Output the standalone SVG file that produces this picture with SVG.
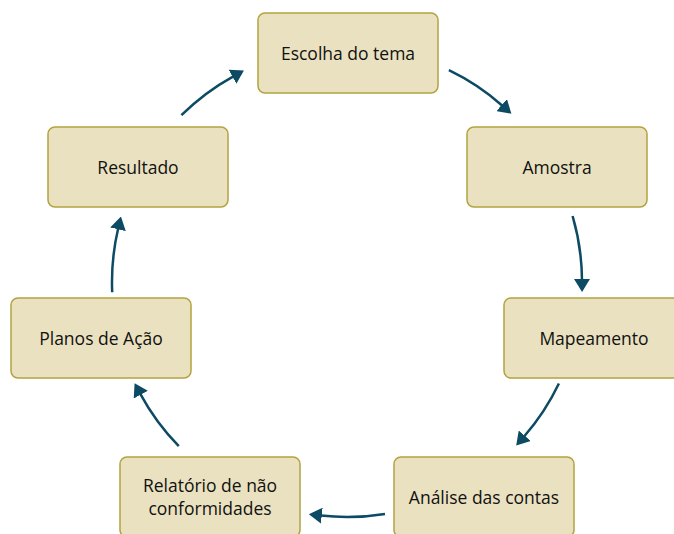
<svg xmlns="http://www.w3.org/2000/svg" width="674" height="534" viewBox="0 0 674 534">
<style>
.box{fill:#EAE1C0;stroke:#B3A33E;stroke-width:1.5}
.lbl{font-family:"Open Sans","Noto Sans","Liberation Sans",sans-serif;font-size:17.5px;fill:#111111;text-anchor:middle}
.arc{fill:none;stroke:#0D4A63;stroke-width:2.5;marker-end:url(#ah)}
</style>
<defs>
<marker id="ah" markerUnits="userSpaceOnUse" viewBox="0 0 13 16" markerWidth="13" markerHeight="16" refX="1" refY="8" orient="auto">
<path d="M0,0 L13,8 L0,16 z" fill="#0D4A63"/>
</marker>
</defs>
<rect width="674" height="534" fill="#FFFFFF"/>
<g id="connectors">
<path class="arc" d="M448.9,70.2 A235,235 0 0 1 502.4,105.7"/>
<path class="arc" d="M572.6,216.0 A235,235 0 0 1 582.0,280.0"/>
<path class="arc" d="M558.9,383.5 A235,235 0 0 1 524.1,436.5"/>
<path class="arc" d="M385.0,513.9 A235,235 0 0 1 320.8,515.5"/>
<path class="arc" d="M178.8,446.1 A235,235 0 0 1 140.3,393.8"/>
<path class="arc" d="M112.2,292.2 A235,235 0 0 1 118.2,228.3"/>
<path class="arc" d="M181.4,115.2 A235,235 0 0 1 233.4,76.3"/>
</g>
<g id="escolha">
<rect class="box" x="258" y="13" width="180" height="80" rx="7"/>
<text class="lbl" x="348" y="59.5">Escolha do tema</text>
</g>
<g id="amostra">
<rect class="box" x="467" y="127" width="180" height="80" rx="7"/>
<text class="lbl" x="557" y="173.5">Amostra</text>
</g>
<g id="mapeamento">
<rect class="box" x="504" y="298" width="180" height="80" rx="7"/>
<text class="lbl" x="594" y="344.5">Mapeamento</text>
</g>
<g id="analise">
<rect class="box" x="394" y="457" width="180" height="80" rx="7"/>
<text class="lbl" x="484" y="503.5">Análise das contas</text>
</g>
<g id="relatorio">
<rect class="box" x="120" y="457" width="180" height="80" rx="7"/>
<text class="lbl" x="210" y="491.5">Relatório de não</text>
<text class="lbl" x="210" y="515">conformidades</text>
</g>
<g id="planos">
<rect class="box" x="11" y="298" width="180" height="80" rx="7"/>
<text class="lbl" x="101" y="344.5">Planos de Ação</text>
</g>
<g id="resultado">
<rect class="box" x="48" y="127" width="180" height="80" rx="7"/>
<text class="lbl" x="138" y="173.5">Resultado</text>
</g>
</svg>
